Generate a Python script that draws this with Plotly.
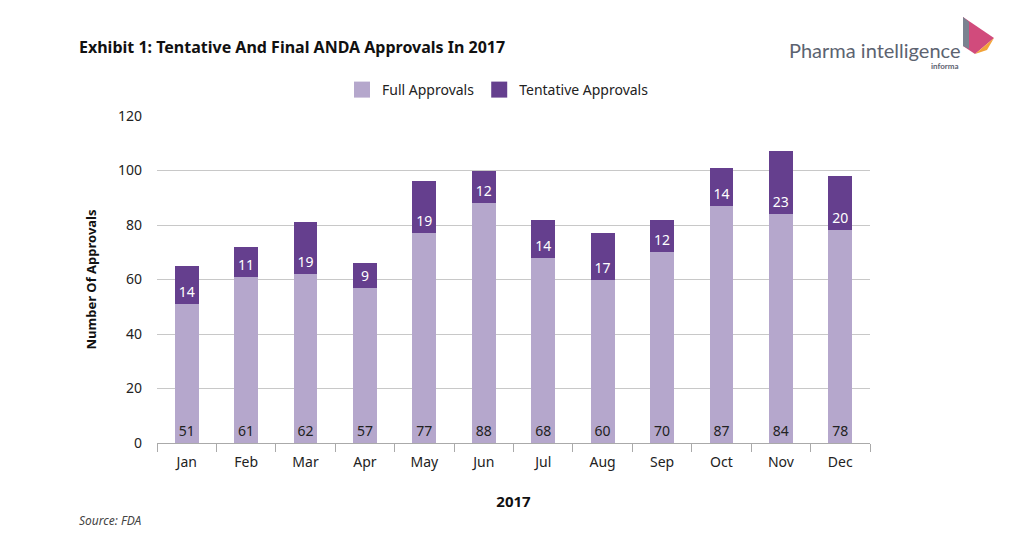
import plotly.graph_objects as go

months = ["Jan", "Feb", "Mar", "Apr", "May", "Jun", "Jul", "Aug", "Sep", "Oct", "Nov", "Dec"]
full_approvals = [51, 61, 62, 57, 77, 88, 68, 60, 70, 87, 84, 78]
tentative_approvals = [14, 11, 19, 9, 19, 12, 14, 17, 12, 14, 23, 20]
y_ticks = [0, 20, 40, 60, 80, 100, 120]

FONT = "Noto Sans"
LIGHT = "#b5a7cc"
DARK = "#653f8e"

fig = go.Figure()
fig.add_trace(go.Bar(
    x=months, y=full_approvals, name="Full Approvals", showlegend=False,
    marker=dict(color=LIGHT, line=dict(width=0)),
    text=full_approvals, textposition="inside", insidetextanchor="start",
    textfont=dict(color="#222222", size=14, family=FONT),
    textangle=0, constraintext="none",
))
fig.add_trace(go.Bar(
    x=months, y=tentative_approvals, name="Tentative Approvals", showlegend=False,
    marker=dict(color=DARK, line=dict(width=0)),
    text=tentative_approvals, textposition="inside", insidetextanchor="start",
    textfont=dict(color="white", size=14, family=FONT),
    textangle=0, constraintext="none",
))
# legend entries with larger square swatches
for nm, col in [("Full Approvals", LIGHT), ("Tentative Approvals", DARK)]:
    fig.add_trace(go.Scatter(x=[None], y=[None], mode="markers", name=nm,
                             marker=dict(symbol="square", size=16, color=col),
                             hoverinfo="skip"))

def px(xp): return (xp - 157) / 713
def py(yp): return 1 + (116 - yp) / 327

fig.update_layout(
    barmode="stack",
    bargap=0.6,
    width=1024, height=535,
    margin=dict(l=157, r=154, t=116, b=92),
    paper_bgcolor="white", plot_bgcolor="white",
    font=dict(family=FONT, color="#222222", size=13),
    uniformtext=dict(minsize=13, mode="show"),
    showlegend=True,
    legend=dict(orientation="h", x=px(342), xanchor="left", y=py(90), yanchor="middle",
                font=dict(size=14, family=FONT, color="#222222"),
                itemwidth=30, traceorder="normal"),
    xaxis=dict(
        showgrid=False, showline=True, linecolor="#aaaaaa", linewidth=1,
        ticks="outside", tickson="boundaries", ticklen=8, tickcolor="#aaaaaa",
        ticklabelstandoff=6,
        tickfont=dict(size=14, family=FONT, color="#222222"),
        title=dict(text="<b>2017</b>", font=dict(size=15, family=FONT, color="#111111"), standoff=26),
    ),
    yaxis=dict(
        range=[0, 120], tickvals=y_ticks, showgrid=True, gridcolor="#c8c8c8", gridwidth=1,
        zeroline=False, showline=False, ticks="", ticklabelstandoff=14,
        tickfont=dict(size=14, family=FONT, color="#222222"),
        title=dict(text="<b>Number Of Approvals</b>", font=dict(size=13, family=FONT, color="#111111"), standoff=18),
    ),
)

fig.add_annotation(text="<b>Exhibit 1: Tentative And Final ANDA Approvals In 2017</b>",
                   xref="paper", yref="paper", x=px(77), y=py(47),
                   xanchor="left", yanchor="middle", showarrow=False,
                   font=dict(size=16, family=FONT, color="#111111"))
fig.add_annotation(text="<i>Source: FDA</i>", xref="paper", yref="paper",
                   x=px(77), y=py(520), xanchor="left", yanchor="middle",
                   showarrow=False, font=dict(size=12, family=FONT, color="#444444"))
# logo text
fig.add_annotation(text="Pharma intelligence", xref="paper", yref="paper",
                   x=px(962), y=py(50), xanchor="right", yanchor="middle",
                   showarrow=False, font=dict(size=20, family="Lato", color="#5c6370"))
fig.add_annotation(text="<b>informa</b>", xref="paper", yref="paper",
                   x=px(961), y=py(66), xanchor="right", yanchor="middle",
                   showarrow=False, font=dict(size=8, family="Lato", color="#5c6370"))
# logo mark
fig.add_shape(type="path", xref="paper", yref="paper",
              path=f"M {px(963)},{py(17)} L {px(994)},{py(38)} L {px(975)},{py(54)} L {px(963)},{py(46)} Z",
              fillcolor="#d14b7c", line=dict(width=0))
fig.add_shape(type="path", xref="paper", yref="paper",
              path=f"M {px(963)},{py(17)} L {px(969)},{py(22)} L {px(969)},{py(49)} L {px(963)},{py(46)} Z",
              fillcolor="#7a8290", line=dict(width=0))
fig.add_shape(type="path", xref="paper", yref="paper",
              path=f"M {px(975)},{py(54)} L {px(994)},{py(38)} L {px(987)},{py(50)} Z",
              fillcolor="#f2a33a", line=dict(width=0))

fig.write_html("out.html")
